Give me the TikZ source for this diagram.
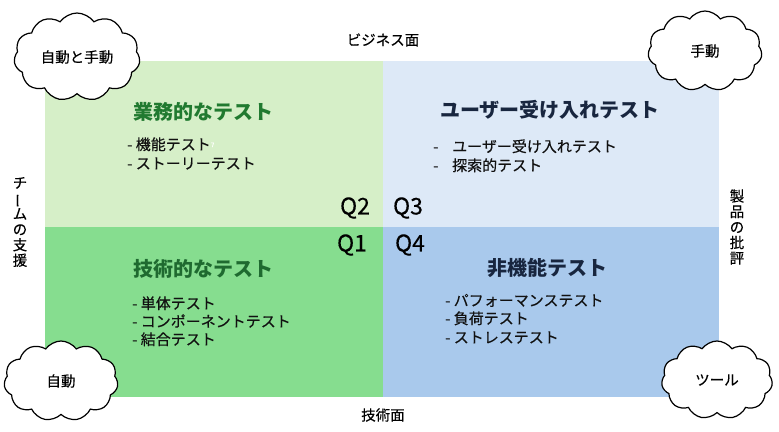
\documentclass[tikz,border=0pt]{standalone}
\usepackage{fontspec}
\setmainfont{Noto Sans CJK JP}
\newfontfamily\heavyfont{Noto Sans CJK JP}[BoldFont={Noto Sans CJK JP}, BoldFeatures={FakeBold=0.35}]
\usetikzlibrary{shapes.symbols}
\definecolor{qone}{HTML}{86DD8F}
\definecolor{qtwo}{HTML}{D6EFC8}
\definecolor{qthree}{HTML}{DDE9F7}
\definecolor{qfour}{HTML}{A9C9EC}
\definecolor{greentitle}{HTML}{217A30}
\definecolor{greentitletwo}{HTML}{1F6A30}
\definecolor{bluetitle}{HTML}{18263F}
\definecolor{textdark}{HTML}{111111}
\tikzset{
  cloudbox/.style={cloud, cloud puffs=11, cloud puff arc=110, cloud ignores aspect, draw=black, line width=1.2pt, fill=white, inner sep=0pt, font=\heavyfont\bfseries\fontsize{14.5}{16}\selectfont},
  title/.style={anchor=west, inner sep=0pt, font=\fontsize{20}{22}\selectfont\bfseries},
  item/.style={anchor=west, inner sep=0pt, text height=11pt, text depth=3pt, text=textdark, font=\heavyfont\bfseries\fontsize{15}{16}\selectfont},
  qlabel/.style={inner sep=0pt, text=black, font=\heavyfont\bfseries\fontsize{23}{25}\selectfont},
  axis/.style={inner sep=0pt, text=black, font=\heavyfont\bfseries\fontsize{14.5}{15.5}\selectfont, align=center}
}
\begin{document}
\begin{tikzpicture}[x=1pt,y=-1pt]
\useasboundingbox[fill=white] (0,0) rectangle (779,431);
% quadrants
\fill[qtwo] (45,61) rectangle (383,227);
\fill[qthree] (383,61) rectangle (719,227);
\fill[qone] (45,227) rectangle (383,397);
\fill[qfour] (383,227) rectangle (719,397);
% Q labels
\node[qlabel] (q2) at (355,208) {Q2};
\node[qlabel] (q3) at (408,208) {Q3};
\node[qlabel] (q1) at (352,245) {Q1};
\node[qlabel] (q4) at (410,245) {Q4};
% Q2
\node[title, text=greentitle] (t2) at (133,112) {業務的なテスト};
\node[item] (i21) at (127,146) {- 機能テスト\textcolor{white}{\fontsize{6}{6}\selectfont\raisebox{3pt}{7}}};
\node[item] (i22) at (127,165) {- ストーリーテスト};
% Q3
\node[title, text=bluetitle] (t3) at (440,110) {ユーザー受け入れテスト};
\node[item] (d31) at (433,148) {-};
\node[item] (i31) at (452,148) {ユーザー受け入れテスト};
\node[item] (d32) at (433,167) {-};
\node[item] (i32) at (452,167) {探索的テスト};
% Q1
\node[title, text=greentitletwo] (t1) at (133,269) {技術的なテスト};
\node[item] (i11) at (132,305) {- 単体テスト};
\node[item] (i12) at (132,323) {- コンポーネントテスト};
\node[item] (i13) at (132,341) {- 結合テスト};
% Q4
\node[title, text=bluetitle] (t4) at (487,268) {非機能テスト};
\node[item] (i41) at (445,302) {- パフォーマンステスト};
\node[item] (i42) at (445,320) {- 負荷テスト};
\node[item] (i43) at (445,339) {- ストレステスト};
% axis labels
\node[axis] (biz) at (383,40) {ビジネス面};
\node[axis] (tech) at (383,415) {技術面};
\node[axis] (team) at (20,222) {チ\\\rotatebox[origin=c]{90}{ー}\\ム\\の\\支\\援};
\node[axis] (prod) at (737,227) {製\\品\\の\\批\\評};
% clouds
\node[cloudbox, minimum width=126pt, minimum height=88pt] (c1) at (77,57) {自動と手動};
\node[cloudbox, minimum width=114pt, minimum height=80pt] (c2) at (705,51) {手動};
\node[cloudbox, minimum width=114pt, minimum height=80pt] (c3) at (61,381) {自動};
\node[cloudbox, minimum width=111pt, minimum height=78pt] (c4) at (717,380) {ツール};
\end{tikzpicture}
\end{document}
